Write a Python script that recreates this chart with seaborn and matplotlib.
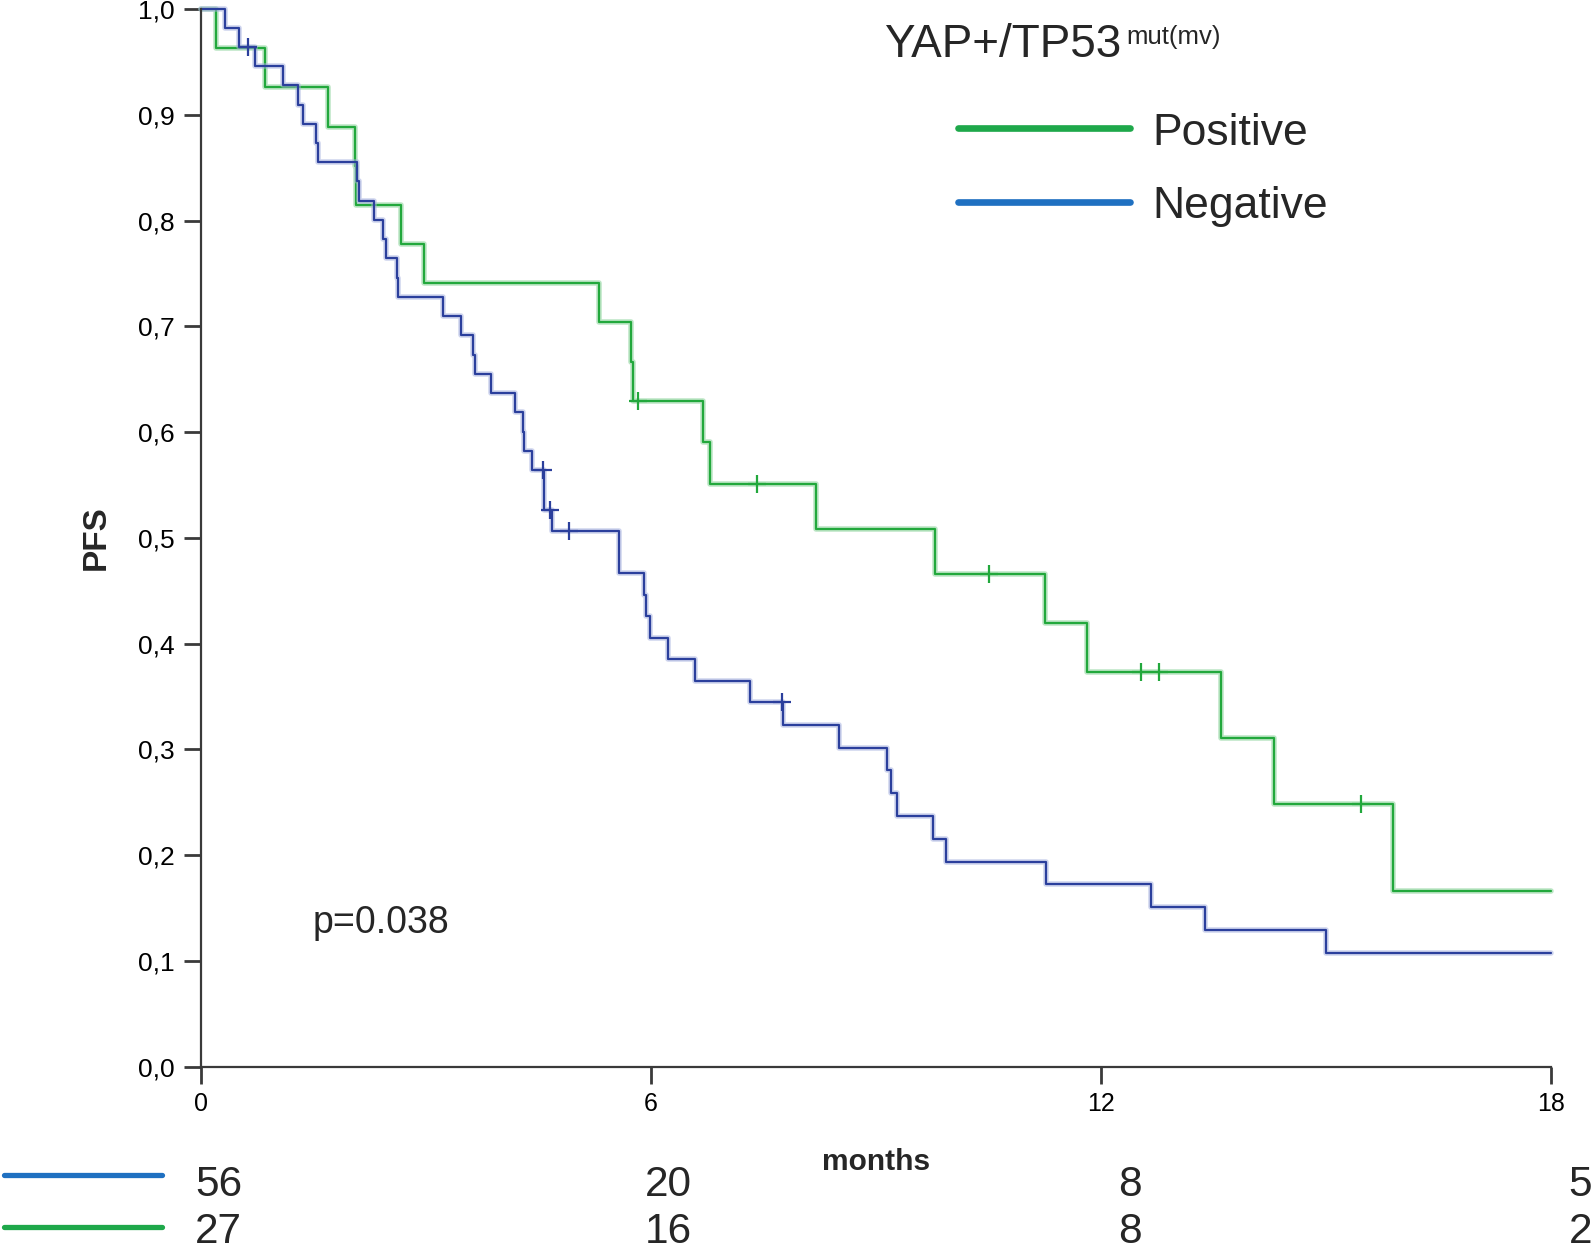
import numpy as np
import pandas as pd
import matplotlib
matplotlib.use('Agg')
import matplotlib.pyplot as plt
import seaborn as sns
from matplotlib.lines import Line2D
from matplotlib.ticker import FuncFormatter

# event / censoring times (months)
n_neg = 56
neg_events = [0.32, 0.50, 0.72, 1.09, 1.29, 1.36, 1.53, 1.56, 2.08, 2.11, 2.31, 2.43,
              2.47, 2.61, 2.63, 3.23, 3.46, 3.63, 3.65, 3.86, 4.19, 4.29, 4.31, 4.41,
              4.57, 4.57, 4.68, 5.57, 5.57, 5.90, 5.93, 5.98, 6.22, 6.59, 7.32, 7.76,
              8.50, 9.14, 9.20, 9.28, 9.76, 9.93, 11.26, 12.67, 13.38, 15.00]
neg_censored = [0.62, 4.56, 4.65, 4.90, 7.74]

n_pos = 27
pos_events = [0.20, 0.85, 1.69, 2.05, 2.07, 2.66, 2.97, 5.30, 5.73, 5.76, 6.69, 6.78,
              8.20, 9.78, 11.25, 11.81, 13.60, 14.31, 15.89]
pos_censored = [5.83, 7.41, 10.50, 12.53, 12.77, 15.47]

x_ticks = [0, 6, 12, 18]
risk_neg = [56, 20, 8, 5]
risk_pos = [27, 16, 8, 2]
p_text = 'p=0.038'

W, H = 1595, 1253


def fx(x):
    return x / W


def fy(y):
    return 1 - y / H


def km(n, events, censored, t_end):
    rows = sorted([(t, 1) for t in events] + [(t, 0) for t in censored])
    at_risk, s = n, 1.0
    xs, ys, cx, cy = [0.0], [1.0], [], []
    for t in sorted(set(r[0] for r in rows)):
        d = sum(1 for r in rows if r[0] == t and r[1] == 1)
        c = sum(1 for r in rows if r[0] == t and r[1] == 0)
        if d:
            s *= 1 - d / at_risk
            xs.append(t)
            ys.append(s)
        cx += [t] * c
        cy += [s] * c
        at_risk -= d + c
    xs.append(t_end)
    ys.append(s)
    return pd.DataFrame({'t': xs, 's': ys}), pd.DataFrame({'t': cx, 's': cy})


sns.set_style('ticks')
plt.rcParams['font.family'] = ['Liberation Sans', 'DejaVu Sans']

fig = plt.figure(figsize=(W / 100, H / 100), dpi=100)
ax = fig.add_axes([fx(201), fy(1066.7), 1350 / W, 1057.7 / H])

curves = [
    (n_pos, pos_events, pos_censored, '#22a83c', '#86d196'),
    (n_neg, neg_events, neg_censored, '#2b3f9c', '#a6b2e0'),
]
for n, ev, ce, dark, light in curves:
    steps, cens = km(n, ev, ce, 18)
    sns.lineplot(data=steps, x='t', y='s', drawstyle='steps-post', estimator=None,
                 sort=False, color=light, lw=4.0, alpha=0.55, ax=ax, clip_on=False)
    sns.lineplot(data=steps, x='t', y='s', drawstyle='steps-post', estimator=None,
                 sort=False, color=dark, lw=1.6, ax=ax, clip_on=False)
    sns.scatterplot(data=cens, x='t', y='s', marker='+', s=150, color=dark,
                    linewidth=1.6, ax=ax, zorder=5)

ax.set_xlim(0, 18)
ax.set_ylim(0, 1)
ax.set_xticks(x_ticks)
ax.set_yticks(np.round(np.arange(0, 1.01, 0.1), 1))
ax.yaxis.set_major_formatter(FuncFormatter(lambda v, _: f'{v:.1f}'.replace('.', ',')))
ax.tick_params(direction='out', length=12, width=2.0, color='#3a3a3a', labelcolor='black')
ax.tick_params(axis='y', pad=7, labelsize=19)
ax.tick_params(axis='x', pad=6, labelsize=18)
sns.despine(ax=ax)
for sp in ['left', 'bottom']:
    ax.spines[sp].set_color('#3a3a3a')
    ax.spines[sp].set_linewidth(1.6)

ax.set_ylabel('PFS', fontsize=24, fontweight='bold')
ax.yaxis.set_label_coords((96 - 201) / 1350, 0.5)
ax.yaxis.label.set_va('center')
ax.set_xlabel('months', fontsize=21.5, fontweight='bold')
ax.xaxis.set_label_coords(0.5, (1066.7 - 1170) / 1057.7)
ax.xaxis.label.set_va('baseline')

ax.text(1.49, 0.126, p_text, fontsize=27, va='baseline')

# legend
title = fig.text(fx(884), fy(56.7), 'YAP+/TP53', fontsize=33, va='baseline')
fig.canvas.draw()
bb = title.get_window_extent()
fig.text(bb.x1 / W + 5 / W, fy(44), 'mut(mv)', fontsize=18.5, va='baseline')
for label, col, ly in [('Positive', '#1ea84a', 128.3), ('Negative', '#1f70c1', 201.7)]:
    fig.add_artist(Line2D([fx(958), fx(1130)], [fy(ly), fy(ly)], color=col, lw=4.8,
                          transform=fig.transFigure))
    fig.text(fx(1152), fy(ly + 16.5), label, fontsize=32, va='baseline')

# numbers at risk
for risk, col, ly, base in [(risk_neg, '#1f70c1', 1175, 1196), (risk_pos, '#1ea84a', 1227, 1243)]:
    fig.add_artist(Line2D([fx(4), fx(162)], [fy(ly), fy(ly)], color=col, lw=3.8,
                          transform=fig.transFigure))
    for xt, r in zip(x_ticks, risk):
        xpx = 201 + xt * 75 + 41
        fig.text(fx(xpx), fy(base), str(r), fontsize=30.5, ha='right', va='baseline')

fig.savefig('out.png', dpi=100)
